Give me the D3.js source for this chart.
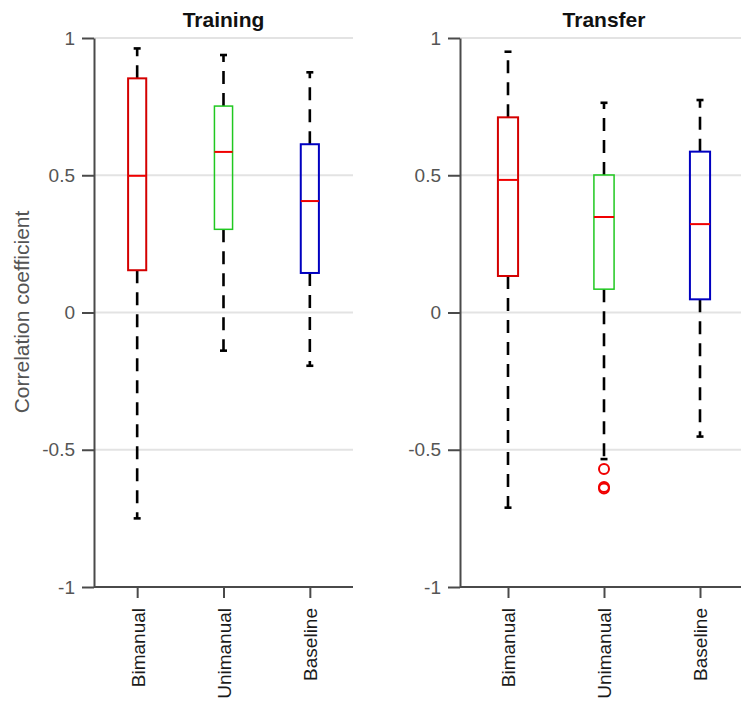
<!DOCTYPE html>
<html>
<head>
<meta charset="utf-8">
<script src="https://cdn.jsdelivr.net/npm/d3@7"></script>
<style>
  html, body { margin: 0; padding: 0; background: #fff; }
  svg { display: block; font-family: "Liberation Sans", Arial, Helvetica, sans-serif; }
</style>
</head>
<body>
<svg id="chart" width="741" height="702"></svg>
<script>
// Groups and per-panel box statistics (correlation coefficients)
const groups = ["Bimanual", "Unimanual", "Baseline"];
const panels = ["Training", "Transfer"];
const yTicks = [-1, -0.5, 0, 0.5, 1];
const yTickLabels = ["-1", "-0.5", "0", "0.5", "1"];

// [lowerWhisker, q1, median, q3, upperWhisker] per group
const trainingStats = [
  [-0.750, 0.154, 0.498, 0.853, 0.962],
  [-0.139, 0.303, 0.585, 0.752, 0.938],
  [-0.194, 0.144, 0.406, 0.613, 0.875]
];
const transferStats = [
  [-0.711, 0.133, 0.483, 0.711, 0.950],
  [-0.534, 0.085, 0.348, 0.501, 0.764],
  [-0.452, 0.048, 0.322, 0.586, 0.774]
];
// Outlying points per group
const trainingOutliers = [[], [], []];
const transferOutliers = [[], [-0.570, -0.636, -0.641], []];

const boxColors = ["#d40000", "#20c820", "#0000c0"];
const boxWidths = [2, 1.5, 2];
const fontFamily = '"Liberation Sans", Arial, Helvetica, sans-serif';

const svg = d3.select("#chart");

const y = d3.scaleLinear().domain([-1, 1]).range([587, 38]);

const layout = [
  { title: panels[0], stats: trainingStats, outliers: trainingOutliers, x0: 94, x1: 353 },
  { title: panels[1], stats: transferStats, outliers: transferOutliers, x0: 460, x1: 748 }
];

layout.forEach(p => {
  const g = svg.append("g");
  const x = d3.scalePoint().domain(groups).range([p.x0, p.x1]).padding(0.5);
  const bw = x.step() * 0.21;
  const capW = 7;

  // horizontal grid
  g.append("g").selectAll("line").data(yTicks.filter(t => t > -1)).join("line")
    .attr("x1", p.x0).attr("x2", p.x1)
    .attr("y1", d => y(d)).attr("y2", d => y(d))
    .attr("stroke", "#e3e3e3").attr("stroke-width", 2);

  // y axis
  const ya = g.append("g").attr("transform", `translate(${p.x0},0)`)
    .call(d3.axisLeft(y).tickValues(yTicks)
      .tickFormat(d => yTickLabels[yTicks.indexOf(d)])
      .tickSize(12).tickSizeOuter(0).tickPadding(7));
  // x axis
  const xa = g.append("g").attr("transform", `translate(0,${y(-1)})`)
    .call(d3.axisBottom(x).tickSize(11).tickSizeOuter(0).tickPadding(10));
  xa.select(".domain").attr("d", `M${p.x0},0H${p.x1}`);

  [ya, xa].forEach(a => {
    a.attr("font-family", fontFamily);
    a.select(".domain").attr("stroke", "#4a4a4a").attr("stroke-width", 2);
    a.selectAll(".tick line").attr("stroke", "#4a4a4a").attr("stroke-width", 2);
  });
  ya.selectAll(".tick text").attr("fill", "#555").style("font-size", "19px");
  xa.selectAll(".tick text")
    .attr("fill", "#1a1a1a").style("font-size", "19px")
    .attr("text-anchor", "end")
    .attr("dy", "0.36em")
    .attr("transform", "translate(0,21) rotate(-90)")
    .attr("x", 0).attr("y", 0);

  // title
  g.append("text")
    .attr("x", (p.x0 + p.x1) / 2).attr("y", 27)
    .attr("text-anchor", "middle")
    .style("font-size", "21px").style("font-weight", "bold")
    .attr("fill", "#111")
    .text(p.title);

  // boxes
  groups.forEach((grp, i) => {
    const [lo, q1, med, q3, hi] = p.stats[i];
    const cx = x(grp);
    const bg = g.append("g");

    // whiskers (dashed, drawn outward from the box)
    bg.append("line")
      .attr("x1", cx).attr("x2", cx).attr("y1", y(q3)).attr("y2", y(hi))
      .attr("stroke", "#000").attr("stroke-width", 2.6).attr("stroke-dasharray", "13,9");
    bg.append("line")
      .attr("x1", cx).attr("x2", cx).attr("y1", y(q1)).attr("y2", y(lo))
      .attr("stroke", "#000").attr("stroke-width", 2.6).attr("stroke-dasharray", "13,9");
    // caps
    [lo, hi].forEach(v => {
      bg.append("line")
        .attr("x1", cx - capW / 2).attr("x2", cx + capW / 2)
        .attr("y1", y(v)).attr("y2", y(v))
        .attr("stroke", "#000").attr("stroke-width", 2.6);
    });
    // box
    bg.append("rect")
      .attr("x", cx - bw / 2).attr("width", bw)
      .attr("y", y(q3)).attr("height", y(q1) - y(q3))
      .attr("fill", "none").attr("stroke", boxColors[i]).attr("stroke-width", boxWidths[i]);
    // median
    bg.append("line")
      .attr("x1", cx - bw / 2).attr("x2", cx + bw / 2)
      .attr("y1", y(med)).attr("y2", y(med))
      .attr("stroke", "#f00000").attr("stroke-width", 2);
    // outliers
    bg.selectAll("circle").data(p.outliers[i]).join("circle")
      .attr("cx", cx).attr("cy", d => y(d)).attr("r", 5)
      .attr("fill", "none").attr("stroke", "#f00000").attr("stroke-width", 2);
  });
});

// shared y label
svg.append("text")
  .attr("transform", "translate(29,312) rotate(-90)")
  .attr("text-anchor", "middle")
  .attr("fill", "#555")
  .style("font-size", "21px")
  .text("Correlation coefficient");
</script>
</body>
</html>
